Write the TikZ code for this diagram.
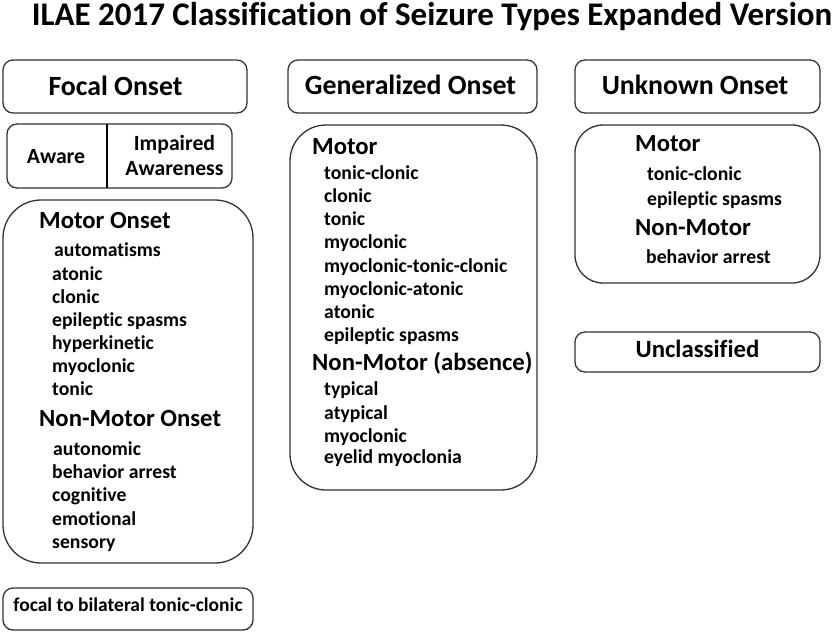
\documentclass[tikz,border=0pt]{standalone}
\usepackage{fontspec}
\setmainfont{Carlito}[Ligatures={NoCommon}]
\begin{document}
\begin{tikzpicture}[x=1pt,y=-1pt,
  frame/.style={draw=black!80, line width=1.3pt, rounded corners=10pt, inner sep=0pt},
  bigframe/.style={frame, rounded corners=38pt},
  head/.style={font=\fontsize{27.8}{30}\selectfont\bfseries, inner sep=0pt, anchor=base},
  sub/.style={font=\fontsize{24.7}{27}\selectfont\bfseries, inner sep=0pt, anchor=base west},
  item/.style={font=\fontsize{19.7}{22}\selectfont\bfseries, inner sep=0pt, anchor=base west},
  small/.style={font=\fontsize{21.7}{24}\selectfont\bfseries, inner sep=0pt, anchor=base}]
\useasboundingbox (0,0) rectangle (833,633);
% title
\node[inner sep=0pt, anchor=base, font=\fontsize{33}{36}\selectfont\bfseries] (title) at (432,25) {ILAE 2017 Classification of Seizure Types Expanded Version};
% focal column
\node[frame, minimum width=244pt, minimum height=53pt] (focal) at (125,86.5) {};
\node[head] (focalt) at (115.5,95) {Focal Onset};
\node[frame, minimum width=225pt, minimum height=64pt] (aware) at (119.5,156) {};
\coordinate (dtop) at (107,124);
\coordinate (dbot) at (107,188);
\draw[line width=2.4pt] (dtop) -- (dbot);
\node[small] (awaret) at (56,163) {Aware};
\node[small] (imp) at (174.5,150) {Impaired};
\node[small] (awn) at (174.5,175) {Awareness};
\node[bigframe, minimum width=250pt, minimum height=363pt] (fmotor) at (128,381.5) {};
\node[sub] (fm) at (39,228) {Motor Onset};
\node[item] (f1) at (54,256) {automatisms};
\node[item] (f2) at (52,280) {atonic};
\node[item] (f3) at (52,303) {clonic};
\node[item] (f4) at (52,326.5) {epileptic spasms};
\node[item] (f5) at (52,349.5) {hyperkinetic};
\node[item] (f6) at (52,372.5) {myoclonic};
\node[item] (f7) at (52,395) {tonic};
\node[sub] (fn) at (39,426) {Non-Motor Onset};
\node[item] (f8) at (53,455) {autonomic};
\node[item] (f9) at (52,478) {behavior arrest};
\node[item] (f10) at (52,501.5) {cognitive};
\node[item] (f11) at (52,525) {emotional};
\node[item] (f12) at (52,548) {sensory};
\node[frame, minimum width=250pt, minimum height=42pt] (fbtc) at (128,609) {};
\node[small, font=\fontsize{19.5}{22}\selectfont\bfseries] (fbtct) at (128,611.5) {focal to bilateral tonic-clonic};
% generalized column
\node[frame, minimum width=249pt, minimum height=53pt] (gen) at (412.5,86.5) {};
\node[head] (gent) at (410.5,94) {Generalized Onset};
\node[bigframe, rounded corners=36pt, minimum width=247pt, minimum height=365pt] (ginner) at (413.5,307.5) {};
\node[sub] (gm) at (312,154.5) {Motor};
\node[item] (g1) at (324,179.5) {tonic-clonic};
\node[item] (g2) at (324,202.5) {clonic};
\node[item] (g3) at (324,225.5) {tonic};
\node[item] (g4) at (324,248.5) {myoclonic};
\node[item] (g5) at (324,272.5) {myoclonic-tonic-clonic};
\node[item] (g6) at (324,295.5) {myoclonic-atonic};
\node[item] (g7) at (324,318.5) {atonic};
\node[item] (g8) at (324,341.5) {epileptic spasms};
\node[sub] (gn) at (312,370) {Non-Motor (absence)};
\node[item] (g9) at (324,395) {typical};
\node[item] (g10) at (324,419) {atypical};
\node[item] (g11) at (324,442) {myoclonic};
\node[item] (g12) at (324,463.5) {eyelid myoclonia};
% unknown column
\node[frame, minimum width=245pt, minimum height=53pt] (unk) at (697.5,86.5) {};
\node[head] (unkt) at (695,94) {Unknown Onset};
\node[bigframe, rounded corners=28pt, minimum width=245pt, minimum height=158pt] (uinner) at (697.5,204) {};
\node[sub] (um) at (635,151.5) {Motor};
\node[item] (u1) at (647,180) {tonic-clonic};
\node[item] (u2) at (647,205) {epileptic spasms};
\node[sub] (un) at (635,235) {Non-Motor};
\node[item] (u3) at (646,263.5) {behavior arrest};
\node[frame, minimum width=245pt, minimum height=40pt] (uncl) at (697.5,352) {};
\node[head, font=\fontsize{24.8}{27}\selectfont\bfseries] (unclt) at (697.5,357.5) {Unclassified};
\end{tikzpicture}
\end{document}
